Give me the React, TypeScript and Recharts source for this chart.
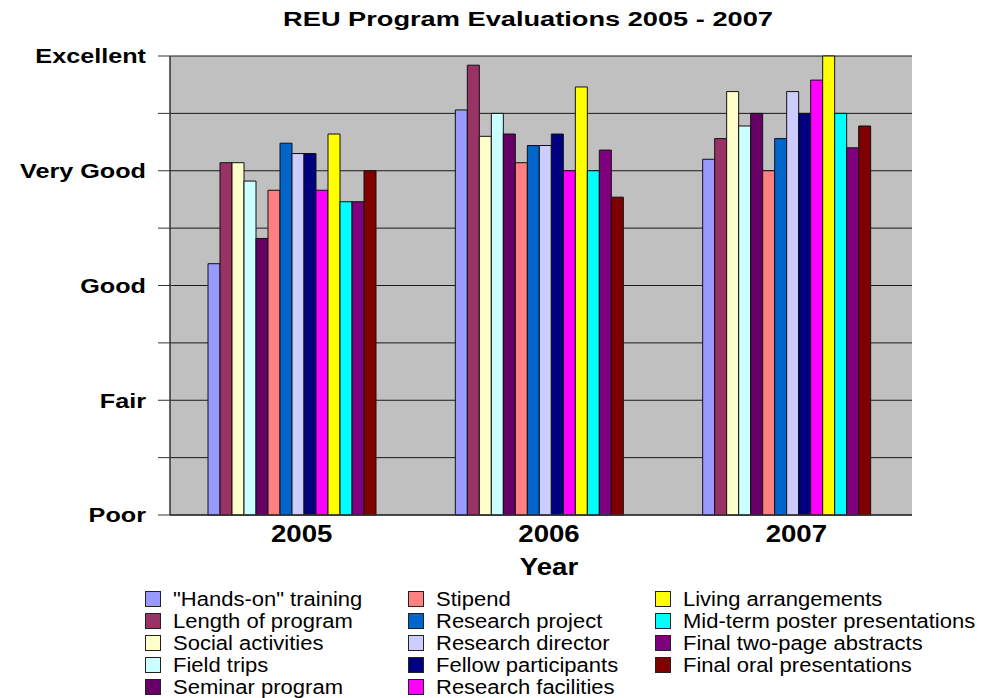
import React from 'react';
import { BarChart, Bar, XAxis, YAxis, CartesianGrid } from 'recharts';

const years = ['2005', '2006', '2007'];

const seriesNames = [
  '"Hands-on" training',
  'Length of program',
  'Social activities',
  'Field trips',
  'Seminar program',
  'Stipend',
  'Research project',
  'Research director',
  'Fellow participants',
  'Research facilities',
  'Living arrangements',
  'Mid-term poster presentations',
  'Final two-page abstracts',
  'Final oral presentations',
];

const seriesColors = [
  '#9999FF', '#993366', '#FFFFCC', '#CCFFFF', '#660066',
  '#FF8080', '#0066CC', '#CCCCFF', '#000080', '#FF00FF',
  '#FFFF00', '#00FFFF', '#800080', '#800000',
];

// scores: 1 = Poor ... 5 = Excellent, same order as seriesNames
const scores2005 = [3.19, 4.07, 4.07, 3.91, 3.41, 3.83, 4.24, 4.15, 4.15, 3.83, 4.32, 3.73, 3.73, 4.0];
const scores2006 = [4.53, 4.92, 4.3, 4.5, 4.32, 4.07, 4.22, 4.22, 4.32, 4.0, 4.73, 4.0, 4.18, 3.77];
const scores2007 = [4.1, 4.28, 4.69, 4.39, 4.5, 4.0, 4.28, 4.69, 4.5, 4.79, 5.0, 4.5, 4.2, 4.39];

const ratingTicks = [1, 1.5, 2, 2.5, 3, 3.5, 4, 4.5, 5];
const ratingLabels: Record<number, string> = { 1: 'Poor', 2: 'Fair', 3: 'Good', 4: 'Very Good', 5: 'Excellent' };
const groupEdges = [0, 1, 2, 3];

const yearScores = [scores2005, scores2006, scores2007];
const data = years.map((year, i) => {
  const row: Record<string, any> = { year };
  seriesNames.forEach((_, j) => {
    row['s' + j] = yearScores[i][j];
  });
  return row;
});

const FONT = '"Liberation Sans", Arial, sans-serif';

const YTick = ({ x, y, payload }: any) => (
  <text
    x={0}
    y={0}
    transform={`translate(${x},${y}) scale(1.2,1)`}
    textAnchor="end"
    dy="0.355em"
    fontSize={21}
    fontWeight="bold"
    fontFamily={FONT}
    fill="#000"
  >
    {ratingLabels[payload.value] ?? ''}
  </text>
);

const XTick = ({ x, y, payload }: any) => (
  <text
    x={0}
    y={0}
    transform={`translate(${x + 8},${y}) scale(1.2,1)`}
    textAnchor="middle"
    dy="0.71em"
    fontSize={23}
    fontWeight="bold"
    fontFamily={FONT}
    fill="#000"
  >
    {payload.value}
  </text>
);

const YearLabel = (props: any) => {
  const vb = props.viewBox || {};
  return (
    <text
      x={0}
      y={0}
      transform={`translate(${vb.x + vb.width / 2 + 8},${vb.y + 60}) scale(1.2,1)`}
      textAnchor="middle"
      fontSize={23}
      fontWeight="bold"
      fontFamily={FONT}
      fill="#000"
    >
      Year
    </text>
  );
};

const legendColumns = [0, 1, 2];

export default function App() {
  return (
    <div style={{ position: 'absolute', left: 0, top: 0, width: 985, height: 698, background: '#fff', fontFamily: FONT }}>
      <div
        style={{
          position: 'absolute',
          left: 528,
          top: 9,
          transform: 'translateX(-50%) scaleX(1.36)',
          fontSize: 20,
          lineHeight: '20px',
          fontWeight: 'bold',
          whiteSpace: 'nowrap',
        }}
      >
        REU Program Evaluations 2005 - 2007
      </div>

      <BarChart
        width={985}
        height={580}
        data={data}
        margin={{ top: 56, right: 73, left: 0, bottom: 0 }}
        barCategoryGap={38}
        barGap={0}
      >
        <CartesianGrid vertical={false} fill="#c0c0c0" fillOpacity={1} stroke="#1a1a1a" strokeWidth={1} />
        <XAxis
          xAxisId="edges"
          type="number"
          domain={[0, 3]}
          ticks={groupEdges}
          height={0}
          axisLine={false}
          tickSize={5}
          tickLine={{ stroke: '#333' }}
          tickFormatter={() => ''}
        />
        <XAxis
          dataKey="year"
          height={65}
          axisLine={{ stroke: '#333', strokeWidth: 1.5 }}
          tickLine={false}
          tickMargin={5}
          tick={<XTick />}
          label={<YearLabel />}
        />
        <YAxis
          domain={[1, 5]}
          ticks={ratingTicks}
          interval={0}
          width={170}
          tickSize={12}
          tickMargin={12}
          axisLine={{ stroke: '#333', strokeWidth: 1.5 }}
          tickLine={{ stroke: '#333' }}
          tick={<YTick />}
        />
        <YAxis
          yAxisId="frame"
          orientation="right"
          domain={[1, 5]}
          width={0}
          tick={false}
          tickLine={false}
          axisLine={{ stroke: '#333', strokeWidth: 1.5 }}
        />
        {seriesNames.map((name, j) => (
          <Bar
            key={name}
            dataKey={'s' + j}
            name={name}
            fill={seriesColors[j]}
            stroke="#111"
            strokeWidth={1}
            isAnimationActive={false}
          />
        ))}
      </BarChart>

      <div style={{ position: 'absolute', left: 0, top: 588, width: 985 }}>
        {legendColumns.map((col) => (
          <div key={col} style={{ position: 'absolute', left: [145, 408, 655][col], top: 0 }}>
            {seriesNames.slice(col * 5, col * 5 + 5).map((name, k) => {
              const idx = col * 5 + k;
              return (
                <div key={name} style={{ display: 'flex', alignItems: 'center', height: 22, whiteSpace: 'nowrap' }}>
                  <span
                    style={{
                      display: 'inline-block',
                      width: 16,
                      height: 16,
                      background: seriesColors[idx],
                      border: '1px solid #222',
                      marginRight: 12,
                      boxSizing: 'border-box',
                      flex: 'none',
                    }}
                  />
                  <span
                    style={{
                      display: 'inline-block',
                      fontSize: 20,
                      lineHeight: '22px',
                      transform: 'scaleX(1.1)',
                      transformOrigin: 'left center',
                    }}
                  >
                    {name}
                  </span>
                </div>
              );
            })}
          </div>
        ))}
      </div>
    </div>
  );
}
